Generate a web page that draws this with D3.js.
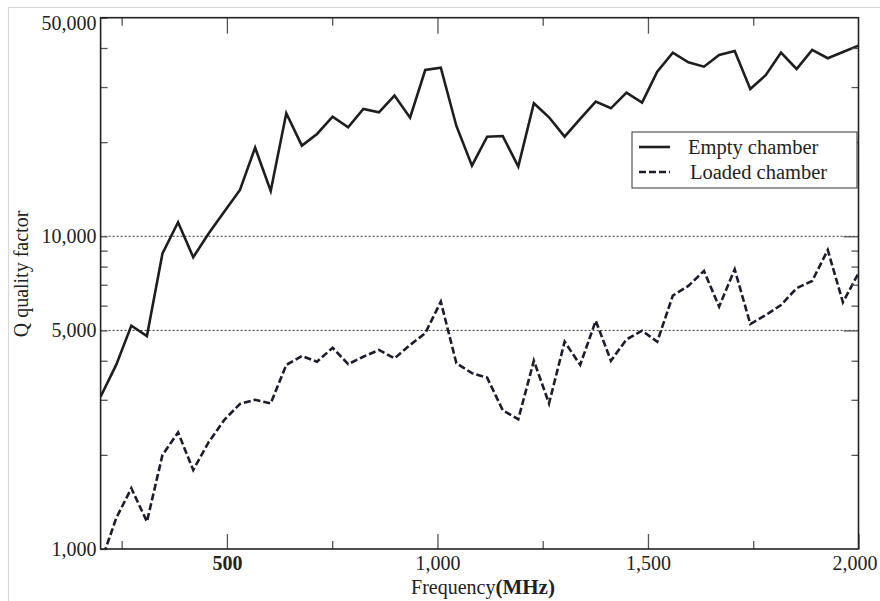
<!DOCTYPE html>
<html>
<head>
<meta charset="utf-8">
<script src="https://cdnjs.cloudflare.com/ajax/libs/d3/7.8.5/d3.min.js"></script>
<style>
  body { margin: 0; background: #fff; }
  svg text { font-family: "Liberation Serif", "Times New Roman", serif; fill: #222; }
</style>
</head>
<body>
<div id="chart"></div>
<script>
/////////////////////////////////////
/// data
/////////////////////////////////////

var frequencies = [200, 237, 273, 310, 347, 384, 420, 457, 494, 531,
  567, 604, 641, 678, 714, 751, 788, 824, 861, 898,
  935, 971, 1008, 1045, 1082, 1118, 1155, 1192, 1229, 1265,
  1302, 1339, 1376, 1412, 1449, 1486, 1522, 1559, 1596, 1633,
  1669, 1706, 1743, 1780, 1816, 1853, 1890, 1927, 1963, 2000];

var emptyChamber = [3070, 3880, 5180, 4800, 8820, 11090, 8570, 10220, 12000, 14060,
  19200, 13960, 24740, 19490, 21240, 24130, 22320, 25530, 24920, 28170,
  23950, 34020, 34610, 22530, 16820, 20820, 20930, 16700, 26630, 24020,
  20820, 23720, 26950, 25660, 28800, 26750, 33600, 38660, 36010, 34860,
  38000, 39140, 29590, 32800, 38660, 34280, 39430, 37090, 38850, 40700];

var loadedChamber = [900, 1254, 1564, 1223, 2000, 2360, 1790, 2200, 2590, 2910,
  3000, 2920, 3880, 4140, 3970, 4400, 3900, 4120, 4330, 4070,
  4490, 4900, 6180, 3925, 3650, 3530, 2780, 2600, 4000, 2920,
  4600, 3880, 5370, 4000, 4680, 4990, 4600, 6460, 6940, 7750,
  5955, 7840, 5240, 5600, 6030, 6820, 7200, 9040, 6150, 7620];

var seriesNames = ["Empty chamber", "Loaded chamber"];

var xMajorTicks = [500, 1000, 1500, 2000];
var xMinorTicks = [250, 750, 1250, 1750];
var yMajorTicks = [1000, 5000, 10000, 50000];
var yMinorTicks = [2000, 3000, 4000, 6000, 7000, 8000, 9000, 20000, 30000, 40000];
var yGridTicks = [5000, 10000];

/////////////////////////////////////
/// chart
/////////////////////////////////////

var Q_Chart = function(opt) {
  this.element = opt.element;
  this.width = opt.width;
  this.height = opt.height;
  this.left = 100.6;
  this.right = 858.5;
  this.top = 17.7;
  this.bottom = 549;
  this.draw();
};

Q_Chart.prototype.draw = function() {
  this.svg = d3.select(this.element).append("svg")
    .attr("width", this.width)
    .attr("height", this.height);

  // faint page frame
  this.svg.append("path")
    .attr("d", "M8.5," + this.height + "V7.5H" + this.width)
    .attr("fill", "none")
    .attr("stroke", "#d8d8d8")
    .attr("stroke-width", 1.2);

  this.generateScales();
  this.addGrid();
  this.addLines();
  this.addAxis();
  this.addLegend();
};

Q_Chart.prototype.generateScales = function() {
  this.xScale = d3.scaleLinear()
    .domain([200, 2000])
    .range([this.left, this.right]);

  this.yScale = d3.scaleLog()
    .domain([1000, 50000])
    .range([this.bottom, this.top]);
};

Q_Chart.prototype.addGrid = function() {
  var that = this;
  this.svg.append("g").selectAll("line")
    .data(yGridTicks)
    .enter().append("line")
    .attr("x1", this.left)
    .attr("x2", this.right)
    .attr("y1", function(d) { return that.yScale(d); })
    .attr("y2", function(d) { return that.yScale(d); })
    .attr("stroke", "#333")
    .attr("stroke-width", 1)
    .attr("stroke-dasharray", "2,2");
};

Q_Chart.prototype.addLines = function() {
  var that = this;

  this.svg.append("clipPath").attr("id", "plot-clip")
    .append("rect")
    .attr("x", this.left)
    .attr("y", this.top)
    .attr("width", this.right - this.left)
    .attr("height", this.bottom - this.top);

  var line = d3.line()
    .x(function(d) { return that.xScale(d.f); })
    .y(function(d) { return that.yScale(d.q); });

  var empty = frequencies.map(function(f, i) { return { f: f, q: emptyChamber[i] }; });
  var loaded = frequencies.map(function(f, i) { return { f: f, q: loadedChamber[i] }; });

  var g = this.svg.append("g").attr("clip-path", "url(#plot-clip)");

  g.append("path")
    .datum(loaded)
    .attr("d", line)
    .attr("fill", "none")
    .attr("stroke", "#1c1c2a")
    .attr("stroke-width", 2.6)
    .attr("stroke-dasharray", "7,3")
    .attr("stroke-linejoin", "miter");

  g.append("path")
    .datum(empty)
    .attr("d", line)
    .attr("fill", "none")
    .attr("stroke", "#1e1e1e")
    .attr("stroke-width", 2.6)
    .attr("stroke-linejoin", "miter");
};

Q_Chart.prototype.styleTicks = function(sel) {
  sel.select(".domain").remove();
  sel.selectAll(".tick line").attr("stroke", "#555").attr("stroke-width", 1.3);
};

Q_Chart.prototype.addAxis = function() {
  var fmt = d3.format(",");

  // bottom
  var xAxis = this.svg.append("g")
    .attr("transform", "translate(0," + this.bottom + ")")
    .call(d3.axisBottom(this.xScale).tickValues(xMajorTicks).tickSize(-15).tickPadding(7).tickFormat(fmt));
  this.styleTicks(xAxis);
  xAxis.selectAll("text")
    .attr("font-size", 20)
    .attr("fill", "#222")
    .attr("font-weight", function(d) { return d == 500 ? "bold" : "normal"; })
    .attr("x", function(d) { return d == 2000 ? -4 : 0; });

  var xMinor = this.svg.append("g")
    .attr("transform", "translate(0," + this.bottom + ")")
    .call(d3.axisBottom(this.xScale).tickValues(xMinorTicks).tickSize(-8).tickFormat(""));
  this.styleTicks(xMinor);

  // top
  var xTop = this.svg.append("g")
    .attr("transform", "translate(0," + this.top + ")")
    .call(d3.axisTop(this.xScale).tickValues(xMajorTicks.slice(0, 3)).tickSize(-16).tickFormat(""));
  this.styleTicks(xTop);
  var xTopMinor = this.svg.append("g")
    .attr("transform", "translate(0," + this.top + ")")
    .call(d3.axisTop(this.xScale).tickValues(xMinorTicks).tickSize(-8).tickFormat(""));
  this.styleTicks(xTopMinor);

  // left
  var yAxis = this.svg.append("g")
    .attr("transform", "translate(" + this.left + ",0)")
    .call(d3.axisLeft(this.yScale).tickValues(yMajorTicks).tickSize(-7).tickPadding(4).tickFormat(fmt));
  this.styleTicks(yAxis);
  yAxis.selectAll("text")
    .attr("font-size", 20)
    .attr("fill", "#222")
    .attr("y", function(d) { return d == 50000 ? 5 : 0; });

  var yMinor = this.svg.append("g")
    .attr("transform", "translate(" + this.left + ",0)")
    .call(d3.axisLeft(this.yScale).tickValues(yMinorTicks).tickSize(-7).tickFormat(""));
  this.styleTicks(yMinor);

  // right
  var yRight = this.svg.append("g")
    .attr("transform", "translate(" + this.right + ",0)")
    .call(d3.axisRight(this.yScale).tickValues(yGridTicks).tickSize(-15).tickFormat(""));
  this.styleTicks(yRight);
  var yRightMinor = this.svg.append("g")
    .attr("transform", "translate(" + this.right + ",0)")
    .call(d3.axisRight(this.yScale).tickValues(yMinorTicks).tickSize(-7).tickFormat(""));
  this.styleTicks(yRightMinor);

  // frame
  this.svg.append("rect")
    .attr("x", this.left)
    .attr("y", this.top)
    .attr("width", this.right - this.left)
    .attr("height", this.bottom - this.top)
    .attr("fill", "none")
    .attr("stroke", "#222")
    .attr("stroke-width", 1.6);

  // titles
  var xt = this.svg.append("text")
    .attr("x", 483)
    .attr("y", 594)
    .attr("text-anchor", "middle")
    .attr("font-size", 20);
  xt.append("tspan").text("Frequency");
  xt.append("tspan").attr("font-weight", "bold").attr("font-size", 21).text("(MHz)");

  this.svg.append("text")
    .attr("transform", "translate(28,274) rotate(-90)")
    .attr("text-anchor", "middle")
    .attr("font-size", 20)
    .text("Q quality factor");
};

Q_Chart.prototype.addLegend = function() {
  var lg = this.svg.append("g");

  lg.append("rect")
    .attr("x", 632)
    .attr("y", 132)
    .attr("width", 225)
    .attr("height", 56)
    .attr("fill", "#fff")
    .attr("stroke", "#333")
    .attr("stroke-width", 1);

  var rows = lg.selectAll(".row")
    .data(seriesNames)
    .enter().append("g")
    .attr("class", "row")
    .attr("transform", function(d, i) { return "translate(0," + (147 + i * 25) + ")"; });

  rows.append("line")
    .attr("x1", 639)
    .attr("x2", 670)
    .attr("stroke", function(d, i) { return i ? "#1c1c2a" : "#1e1e1e"; })
    .attr("stroke-width", 2.6)
    .attr("stroke-dasharray", function(d, i) { return i ? "7,3" : null; });

  rows.append("text")
    .attr("x", function(d, i) { return i ? 690 : 688; })
    .attr("y", 7)
    .attr("font-size", 20.5)
    .text(function(d) { return d; });
};

new Q_Chart({
  element: "#chart",
  width: 880,
  height: 601
});
</script>
</body>
</html>
